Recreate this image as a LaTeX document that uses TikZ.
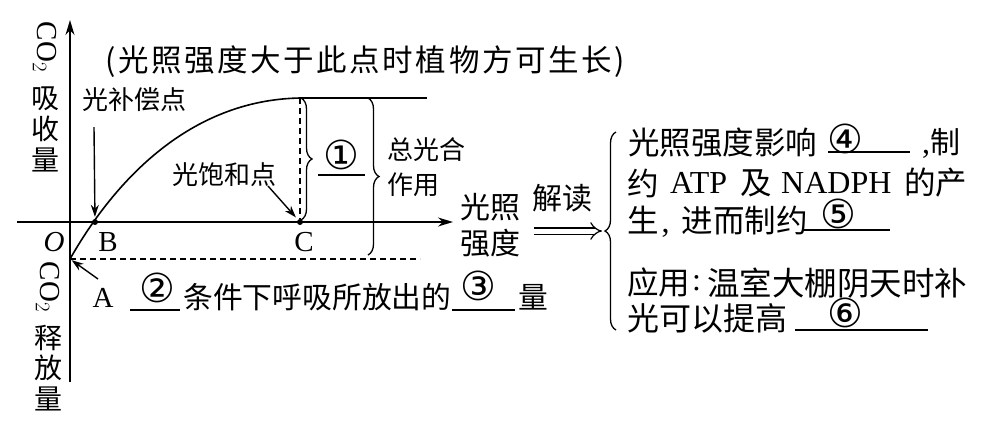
\documentclass[tikz,border=0pt]{standalone}
\usepackage{fontspec}
\setmainfont{Liberation Serif}
\newfontfamily\cjk{Noto Sans CJK SC}
\newfontfamily\cjksp{Noto Sans CJK SC}[LetterSpace=8.5]
\newfontfamily\circfont{DejaVu Sans}
\usetikzlibrary{arrows.meta,decorations.pathreplacing}
\begin{document}
\begin{tikzpicture}[x=1pt,y=-1pt,
  axis/.style={line width=1.6pt,-{Stealth[length=15pt,width=9pt]}},
  ptr/.style={line width=1.4pt,-{Stealth[length=12pt,width=8pt]}},
  dsh/.style={line width=1.4pt,dash pattern=on 6pt off 4pt},
  ul/.style={line width=1.3pt},
  crv/.style={line width=1.6pt},
  brc/.style={decorate,decoration={brace,amplitude=11pt},line width=1.3pt},
  cn/.style={font=\cjk\fontsize{29}{30}\selectfont,inner sep=0pt},
  cnr/.style={font=\cjk\fontsize{31.5}{32}\selectfont,inner sep=0pt},
  cns/.style={font=\cjk\fontsize{26}{28}\selectfont,inner sep=0pt},
  cir/.style={font=\circfont\fontsize{40}{40}\selectfont,inner sep=0pt},
  lt/.style={font=\fontsize{29}{30}\selectfont,inner sep=0pt},
  ltr/.style={font=\fontsize{32}{32}\selectfont,inner sep=0pt},
  dot/.style={circle,fill=black,inner sep=0pt,minimum size=6pt}]
\useasboundingbox (0,0) rectangle (987,424);
% key coordinates
\coordinate (O) at (70,222);
\coordinate (ytop) at (70,20);
\coordinate (ybot) at (70,382);
\coordinate (xl) at (17,222);
\coordinate (xr) at (453,222);
\coordinate (A) at (70,259);
\node[dot] (B) at (95,222) {};
\node[dot] (C) at (300,222) {};
\coordinate (P) at (300,98);
\coordinate (Pr) at (427,98);
\coordinate (Ad) at (420,259);
% axes
\draw[axis] (ybot) -- (ytop);
\draw[axis] (xl) -- (xr);
% curve
\draw[crv] (A) .. controls (115,180) and (190,100) .. (P);
\draw[crv] (P) -- (Pr);
\draw[dsh] (P) -- (C);
\draw[dsh] (A) -- (Ad);
% braces
\coordinate (b1t) at (301,98);
\coordinate (b1b) at (301,220);
\draw[brc] (b1t) -- (b1b);
\coordinate (b2t) at (368,98);
\coordinate (b2b) at (368,255);
\draw[brc] (b2t) -- (b2b);
\coordinate (b3b) at (616,330);
\coordinate (b3t) at (616,132);
\draw[brc] (b3b) -- (b3t);
% axis labels
\node[lt,rotate=-90] (co2a) at (45,47) {CO$_2$};
\node[cn,font=\cjk\fontsize{28}{28}\selectfont] (xi) at (45,99) {吸};
\node[cn,font=\cjk\fontsize{28}{28}\selectfont] (shou) at (45,129) {收};
\node[cn,font=\cjk\fontsize{28}{28}\selectfont] (liang1) at (45,160) {量};
\node[lt,rotate=-90] (co2b) at (48,287) {CO$_2$};
\node[cn,font=\cjk\fontsize{28}{28}\selectfont] (shi) at (48,338) {释};
\node[cn,font=\cjk\fontsize{28}{28}\selectfont] (fang) at (48,368) {放};
\node[cn,font=\cjk\fontsize{28}{28}\selectfont] (liang2) at (48,399) {量};
\node[lt,font=\itshape\fontsize{29}{30}\selectfont] (Olab) at (54,242) {O};
\node[lt] (Blab) at (108,242) {B};
\node[lt] (Clab) at (304,242) {C};
\node[lt] (Alab) at (103,298) {A};
% top text
\node[anchor=west,inner sep=0pt,font=\cjksp\fontsize{30.5}{32}\selectfont] (top) at (105,62) {(光照强度大于此点时植物方可生长)};
% point labels and arrows
\node[cns,anchor=west] (bc) at (82,100) {光补偿点};
\coordinate (bcs) at (94,127);
\draw[ptr,shorten >=2pt] (bcs) -- (B);
\node[cns,anchor=west] (bh) at (172,175) {光饱和点};
\coordinate (bhs) at (268,186);
\draw[ptr,shorten >=3pt] (bhs) -- (C);
\coordinate (as) at (98,279);
\draw[ptr,shorten >=2pt] (as) -- (A);
% brace labels
\node[cir] (n1) at (341,155) {①};
\coordinate (u1a) at (318,175); \coordinate (u1b) at (365,175);
\draw[ul] (u1a) -- (u1b);
\node[cns,anchor=west] (zg1) at (387,150) {总光合};
\node[cns,anchor=west] (zg2) at (387,185) {作用};
% x axis label
\node[cn,anchor=west,font=\cjk\fontsize{30}{30}\selectfont] (gz1) at (460,207) {光照};
\node[cn,anchor=west,font=\cjk\fontsize{30}{30}\selectfont] (gz2) at (460,243) {强度};
\node[cn,anchor=west,font=\cjk\fontsize{30}{30}\selectfont] (jd) at (532,198) {解读};
\coordinate (da) at (534,231); \coordinate (db) at (602,231);
\draw[line width=1.2pt,double distance=5pt,-{Implies}] (da) -- (db);
% bottom text
\node[cir] (n2) at (157,288) {②};
\coordinate (u2a) at (130,310); \coordinate (u2b) at (180,310);
\draw[ul] (u2a) -- (u2b);
\node[cn,anchor=west,font=\cjk\fontsize{29.8}{30}\selectfont] (bt) at (183,297) {条件下呼吸所放出的};
\node[cir] (n3) at (478,286) {③};
\coordinate (u3a) at (452,310); \coordinate (u3b) at (515,310);
\draw[ul] (u3a) -- (u3b);
\node[cn,font=\cjk\fontsize{29.8}{30}\selectfont] (lg) at (533,297) {量};
% right panel
\node[cnr,anchor=west] (r1) at (628,143) {光照强度影响};
\node[cir] (n4) at (845,139) {④};
\coordinate (u4a) at (828,152); \coordinate (u4b) at (910,152);
\draw[ul] (u4a) -- (u4b);
\node[ltr,anchor=west] (r1b) at (922,143) {,{\cjk\fontsize{30}{32}\selectfont 制}};
\node[cnr,anchor=west] (r2a) at (627,183) {约};
\node[ltr,anchor=west] (r2b) at (670,183) {ATP};
\node[cnr,anchor=west] (r2c) at (740,183) {及};
\node[ltr,anchor=west] (r2d) at (781,183) {NADPH};
\node[cnr,anchor=west] (r2e) at (904,183) {的产};
\node[ltr,anchor=west] (r3) at (627,222) {{\cjk\fontsize{31.5}{32}\selectfont 生}\hspace{3pt},\hspace{12pt}{\cjk\fontsize{31.5}{32}\selectfont 进而制约}};
\node[cir] (n5) at (838,214) {⑤};
\coordinate (u5a) at (803,230); \coordinate (u5b) at (890,230);
\draw[ul] (u5a) -- (u5b);
\node[cnr,anchor=west] (r4a) at (627,283) {应用};
\node[ltr,anchor=west] (r4b) at (692,283) {:};
\node[cnr,anchor=west,font=\cjk\fontsize{32.5}{33}\selectfont] (r4c) at (707,283) {温室大棚阴天时补};
\node[cnr,anchor=west,font=\cjk\fontsize{32}{33}\selectfont] (r5a) at (627,318) {光可以提高};
\node[cir] (n6) at (845,313) {⑥};
\coordinate (u6a) at (795,330); \coordinate (u6b) at (928,330);
\draw[ul] (u6a) -- (u6b);
\end{tikzpicture}
\end{document}
